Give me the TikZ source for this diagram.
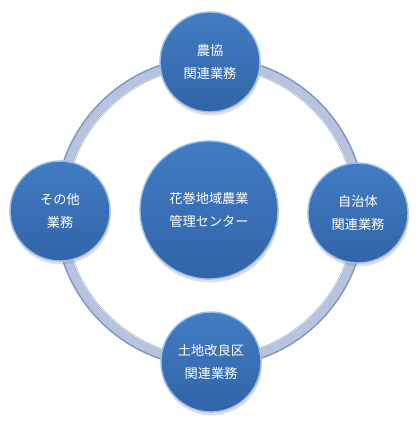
\documentclass[tikz,border=0pt]{standalone}
\usepackage{fontspec}
\setmainfont{Noto Sans CJK JP}
\usetikzlibrary{shadows}
\definecolor{btop}{HTML}{427CC2}
\definecolor{bbot}{HTML}{3164A8}
\definecolor{brim}{HTML}{9CC0EC}
\definecolor{redge}{HTML}{8597BF}
\definecolor{rbody}{HTML}{B6C4E0}
\tikzset{
  ball/.style={circle,top color=btop,bottom color=bbot,draw=brim,line width=1pt,text=white,align=center,font=\fontsize{9.4}{16.5}\selectfont,minimum size=2.5cm,inner sep=0pt,drop shadow={opacity=0.25,shadow xshift=0.6pt,shadow yshift=-2.5pt}},
  hub/.style={ball,minimum size=3.45cm},
  ringedge/.style={draw=redge,line width=0.28cm},
  ringbody/.style={draw=rbody,line width=0.2cm},
  ringlite/.style={draw=white,opacity=0.8,line width=0.6pt},
}
\begin{document}
\begin{tikzpicture}[x=0.025cm,y=-0.025cm]
  \useasboundingbox (0,0) rectangle (416,425);
  \coordinate (c) at (210,212);
  % ring behind the balls
  \draw[ringedge] (c) circle[radius=3.75cm];
  \draw[ringbody] (c) circle[radius=3.75cm];
  \draw[ringlite] (c) circle[radius=3.63cm];
  % balls
  \node[hub] (center) at (209,210) {花巻地域農業\\管理センター};
  \node[ball] (noukyo) at (210,62) {農協\\関連業務};
  \node[ball] (sonota) at (60,211) {その他\\業務};
  \node[ball] (jichi) at (358,213) {自治体\\関連業務};
  \node[ball] (tochi) at (211,362) {土地改良区\\関連業務};
\end{tikzpicture}
\end{document}
